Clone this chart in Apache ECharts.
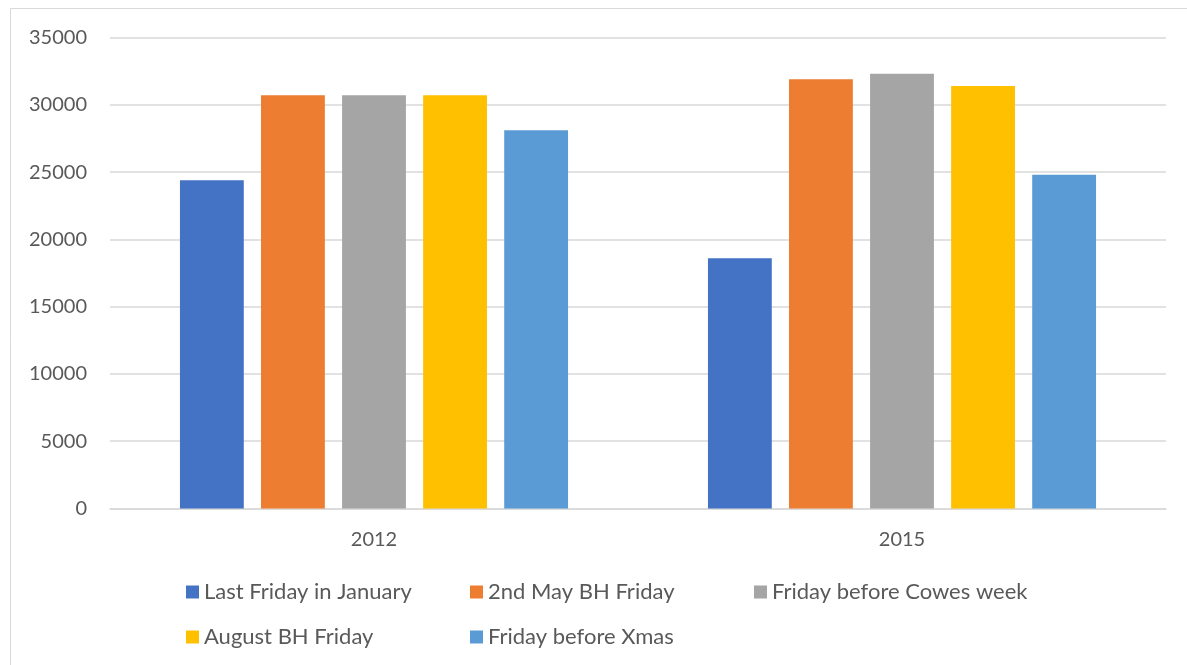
<!DOCTYPE html>
<html>
<head>
<meta charset="utf-8">
<script src="https://cdn.jsdelivr.net/npm/echarts@6/dist/echarts.min.js"></script>
<style>
    html, body { margin: 0; padding: 0; background: #fff; }
    #main { width: 1187px; height: 665px; }
</style>
</head>
<body>
<div id="main"></div>
<script>
var years = ['2012', '2015'];
var seriesNames = ['Last Friday in January', '2nd May BH Friday', 'Friday before Cowes week', 'August BH Friday', 'Friday before Xmas'];
var lastFriJan = [24400, 18600];
var secondMayBH = [30700, 31900];
var cowesWeek = [30700, 32300];
var augustBH = [30700, 31400];
var beforeXmas = [28100, 24800];
var yTicks = [0, 5000, 10000, 15000, 20000, 25000, 30000, 35000];

var colors = ['#4472C4', '#ED7D31', '#A5A5A5', '#FFC000', '#5B9BD5'];
var values = [lastFriJan, secondMayBH, cowesWeek, augustBH, beforeXmas];
var font = 'Lato';

var series = [];
for (var i = 0; i < seriesNames.length; i++) {
    series.push({
        name: seriesNames[i],
        type: 'bar',
        data: values[i],
        barGap: '27%',
        barCategoryGap: '26.5%',
        itemStyle: { color: colors[i] }
    });
}

var myChart = echarts.init(document.getElementById('main'));
var option = {
    animation: false,
    color: colors,
    graphic: [{
        type: 'rect',
        shape: { x: 10.5, y: 8.5, width: 1200, height: 700 },
        style: { fill: null, stroke: '#d9d9d9', lineWidth: 1 }
    }],
    grid: { left: 110, right: 21, top: 37.5, bottom: 156.5 },
    xAxis: {
        type: 'category',
        data: years,
        axisTick: { show: false },
        axisLine: { lineStyle: { color: '#d9d9d9', width: 1.5 } },
        axisLabel: { color: '#595959', fontFamily: font, fontSize: 20, margin: 21 }
    },
    yAxis: {
        type: 'value',
        min: yTicks[0],
        max: yTicks[yTicks.length - 1],
        interval: 5000,
        axisLine: { show: false },
        axisTick: { show: false },
        splitLine: { lineStyle: { color: '#d9d9d9', width: 1.5 } },
        axisLabel: {
            color: '#595959', fontFamily: font, fontSize: 20, margin: 23,
            formatter: function (v) { return String(v); }
        }
    },
    legend: {
        left: 181,
        top: 573,
        width: 900,
        itemWidth: 13,
        itemHeight: 13,
        itemGap: 17,
        icon: 'rect',
        textStyle: {
            color: '#595959', fontFamily: font, fontSize: 22,
            width: 249, lineHeight: 28, overflow: 'none'
        },
        data: seriesNames
    },
    series: series
};
myChart.setOption(option);
</script>
</body>
</html>
